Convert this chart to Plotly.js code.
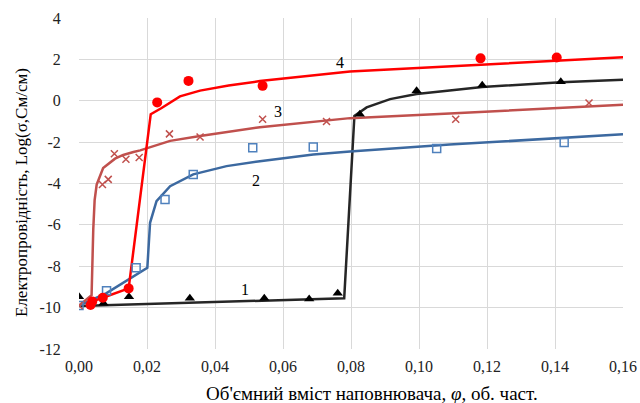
<!DOCTYPE html>
<html>
<head>
<meta charset="utf-8">
<script src="https://cdn.plot.ly/plotly-3.0.1.min.js"></script>
<style>html,body{margin:0;padding:0;background:#fff;}#chart{width:640px;height:403px;}</style>
</head>
<body>
<div id="chart"></div>
<script>
// Tick labels
const xTickVals = [0, 0.02, 0.04, 0.06, 0.08, 0.10, 0.12, 0.14, 0.16];
const xTickText = ["0,00", "0,02", "0,04", "0,06", "0,08", "0,10", "0,12", "0,14", "0,16"];
const yTickVals = [-12, -10, -8, -6, -4, -2, 0, 2, 4];
const yTickText = ["-12", "-10", "-8", "-6", "-4", "-2", "0", "2", "4"];

// Series 1 (black triangles)
const s1X = [0, 0.0072, 0.0147, 0.0326, 0.0545, 0.0677, 0.0761, 0.0826, 0.0993, 0.1186, 0.1417];
const s1Y = [-9.47, -9.79, -9.47, -9.55, -9.55, -9.58, -9.3, -0.65, 0.48, 0.75, 0.92];
const l1X = [0, 0.0297, 0.0503, 0.078, 0.081, 0.0846, 0.0915, 0.0993, 0.109, 0.1186, 0.1417, 0.16];
const l1Y = [-9.92, -9.79, -9.7, -9.55, -0.73, -0.32, 0.08, 0.33, 0.5, 0.66, 0.9, 1.02];

// Series 2 (blue squares)
const s2X = [0, 0.0081, 0.0168, 0.0253, 0.0336, 0.0511, 0.0689, 0.1052, 0.1427];
const s2Y = [-9.9, -9.19, -8.07, -4.77, -3.56, -2.27, -2.23, -2.31, -2.02];
const l2X = [0, 0.0081, 0.0201, 0.0205, 0.0209, 0.0228, 0.0268, 0.0336, 0.0434, 0.0532, 0.0689, 0.0797, 0.109, 0.16];
const l2Y = [-9.9, -9.3, -8.07, -6.9, -5.9, -4.85, -4.13, -3.56, -3.16, -2.92, -2.6, -2.45, -2.12, -1.62];

// Series 3 (brown crosses)
const s3X = [0, 0.0069, 0.0086, 0.0104, 0.0138, 0.0177, 0.0266, 0.0356, 0.054, 0.0728, 0.1108, 0.15];
const s3Y = [-9.9, -4.05, -3.8, -2.56, -2.83, -2.74, -1.6, -1.75, -0.89, -1.0, -0.89, -0.11];
const l3X = [0, 0.0037, 0.0042, 0.0046, 0.0052, 0.0071, 0.0106, 0.013, 0.016, 0.018, 0.0268, 0.0356, 0.0532, 0.0797, 0.109, 0.16];
const l3Y = [-9.9, -9.4, -6.2, -4.8, -4.05, -3.25, -2.8, -2.62, -2.48, -2.4, -1.94, -1.70, -1.28, -0.84, -0.62, -0.19];

// Series 4 (red circles)
const s4X = [0.0034, 0.0039, 0.007, 0.0146, 0.023, 0.0322, 0.054, 0.1181, 0.1405];
const s4Y = [-9.87, -9.7, -9.52, -9.07, -0.08, 0.96, 0.72, 2.05, 2.09];
const l4X = [0.0034, 0.0039, 0.007, 0.0146, 0.0211, 0.0243, 0.0297, 0.0356, 0.044, 0.0532, 0.0797, 0.109, 0.16];
const l4Y = [-9.87, -9.7, -9.52, -9.07, -0.65, -0.35, 0.21, 0.49, 0.74, 0.95, 1.41, 1.65, 2.1];

const labels = ["1", "2", "3", "4"];
const labelX = [0.0487, 0.0521, 0.0586, 0.0768];
const labelY = [-9.1, -3.85, -0.5, 1.85];

const serif = "Liberation Serif";
const W = 640, H = 403, ML = 79, MR = 17, MT = 18, MB = 54;
const PW = W - ML - MR, PH = H - MT - MB;

const traces = [
  {x: l1X, y: l1Y, mode: 'lines', line: {color: '#262626', width: 2.5}, hoverinfo: 'skip'},
  {x: l2X, y: l2Y, mode: 'lines', line: {color: '#3C69A0', width: 2.5}, hoverinfo: 'skip'},
  {x: l3X, y: l3Y, mode: 'lines', line: {color: '#C0504D', width: 2.5}, hoverinfo: 'skip'},
  {x: l4X, y: l4Y, mode: 'lines', line: {color: '#FF0000', width: 2.5}, hoverinfo: 'skip'},
  {x: s1X, y: s1Y, mode: 'markers', marker: {symbol: 'triangle-up', size: 9, color: '#000000'}},
  {x: s2X, y: s2Y, mode: 'markers', marker: {symbol: 'square-open', size: 8, color: '#4F81BD', line: {width: 1.5}}},
  {x: s3X, y: s3Y, mode: 'markers', marker: {symbol: 'x-thin-open', size: 7, color: '#C0504D', line: {width: 1.5, color: '#C0504D'}}},
  {x: s4X, y: s4Y, mode: 'markers', marker: {symbol: 'circle', size: 10, color: '#FF0000'}}
];

const annotations = labels.map((t, i) => ({
  x: labelX[i], y: labelY[i], xref: 'x', yref: 'y', text: t, showarrow: false,
  font: {family: serif, size: 16, color: '#000'}
}));
// x-axis title
annotations.push({
  x: (372 - ML) / PW, y: -(393 - (H - MB)) / PH, xref: 'paper', yref: 'paper', yanchor: 'middle', xanchor: 'center',
  text: "Об'ємний вміст наповнювача, <i>φ</i>, об. част.",
  showarrow: false, font: {family: serif, size: 19, color: '#000'}
});
// y-axis title
annotations.push({
  x: -(ML - 22) / PW, y: ((H - MB) - 193) / PH, xref: 'paper', yref: 'paper', xanchor: 'center', yanchor: 'middle',
  textangle: -90, text: 'Електропровідність, Log(σ,См/см)',
  showarrow: false, font: {family: serif, size: 17, color: '#000'}
});

const layout = {
  width: W, height: H,
  margin: {l: ML, r: MR, t: MT, b: MB},
  showlegend: false,
  font: {family: serif},
  paper_bgcolor: '#fff', plot_bgcolor: '#fff',
  xaxis: {
    range: [0, 0.16], tickvals: xTickVals, ticktext: xTickText,
    showgrid: true, gridcolor: '#D9D9D9', gridwidth: 1, zeroline: false, showline: false,
    ticks: 'outside', ticklen: 3, tickcolor: 'rgba(0,0,0,0)',
    tickfont: {family: serif, size: 16, color: '#222'}
  },
  yaxis: {
    range: [-12, 4], tickvals: yTickVals, ticktext: yTickText,
    showgrid: true, gridcolor: '#D9D9D9', gridwidth: 1, zeroline: false, showline: false,
    ticks: 'outside', ticklen: 14, tickcolor: 'rgba(0,0,0,0)',
    tickfont: {family: serif, size: 16, color: '#222'}
  },
  annotations: annotations
};

Plotly.newPlot('chart', traces, layout, {displayModeBar: false, staticPlot: true});
</script>
</body>
</html>
